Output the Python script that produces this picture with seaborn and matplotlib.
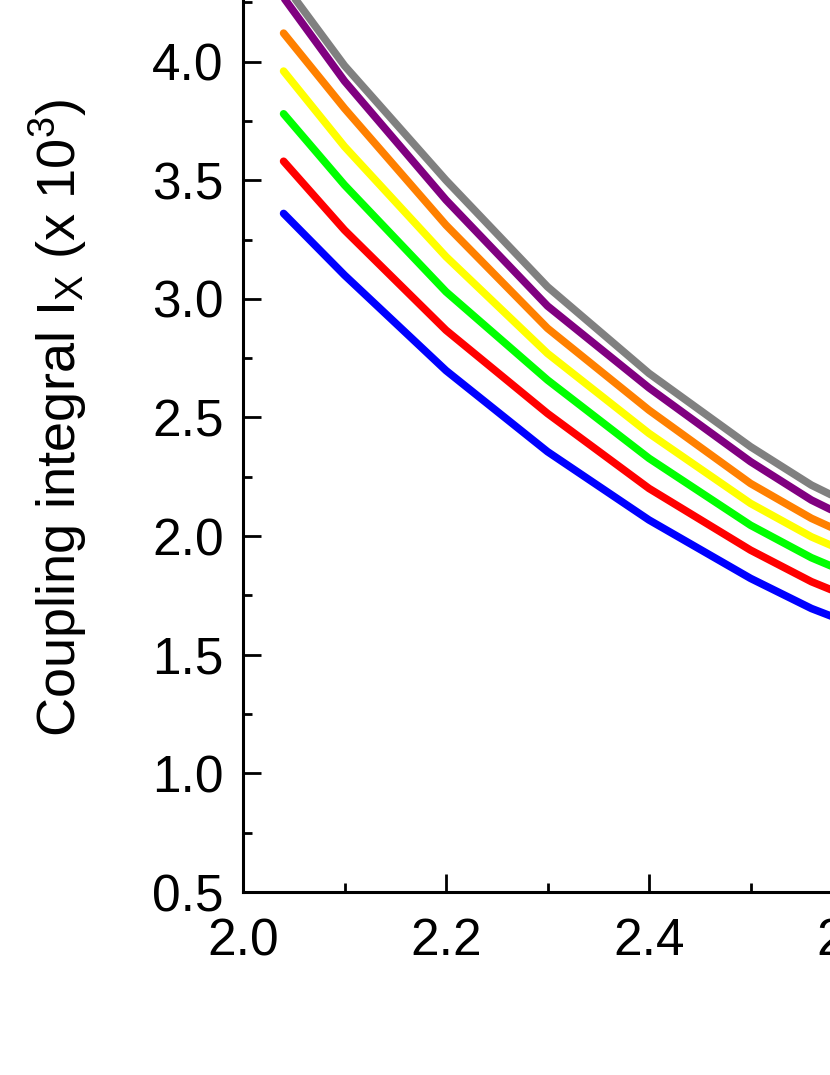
import numpy as np
import pandas as pd
import matplotlib
matplotlib.use("Agg")
import matplotlib.pyplot as plt
from matplotlib.ticker import MultipleLocator
import seaborn as sns

# values (x in the same units as the axis)
r_values = [2.04, 2.10, 2.20, 2.30, 2.40, 2.50, 2.56, 2.58]

ix_gray   = [4.33, 3.983, 3.500, 3.051, 2.686, 2.377, 2.215, 2.173]
ix_purple = [4.27, 3.918, 3.417, 2.970, 2.625, 2.314, 2.152, 2.110]
ix_orange = [4.12, 3.803, 3.311, 2.876, 2.531, 2.222, 2.075, 2.036]
ix_yellow = [3.96, 3.642, 3.178, 2.770, 2.433, 2.138, 1.997, 1.960]
ix_green  = [3.78, 3.480, 3.030, 2.658, 2.328, 2.046, 1.909, 1.873]
ix_red    = [3.58, 3.290, 2.868, 2.517, 2.201, 1.941, 1.808, 1.773]
ix_blue   = [3.36, 3.100, 2.698, 2.356, 2.068, 1.822, 1.695, 1.662]

series = {
    "blue": ix_blue,
    "red": ix_red,
    "green": ix_green,
    "yellow": ix_yellow,
    "orange": ix_orange,
    "purple": ix_purple,
    "gray": ix_gray,
}
colors = {
    "blue": "#0000FF",
    "red": "#FF0000",
    "green": "#00FF00",
    "yellow": "#FFFF00",
    "orange": "#FF8000",
    "purple": "#800080",
    "gray": "#808080",
}

rows = []
for name, vals in series.items():
    for r, v in zip(r_values, vals):
        rows.append({"r": r, "Ix": v, "curve": name})
df = pd.DataFrame(rows)

sns.set_style("ticks")
plt.rcParams["font.family"] = ["Liberation Sans", "DejaVu Sans"]
plt.rcParams["mathtext.fontset"] = "custom"
plt.rcParams["mathtext.rm"] = "Liberation Sans"
plt.rcParams["mathtext.it"] = "Liberation Sans:italic"
plt.rcParams["lines.solid_capstyle"] = "round"
plt.rcParams["lines.solid_joinstyle"] = "round"
plt.rcParams["text.color"] = "black"
plt.rcParams["axes.labelcolor"] = "black"
plt.rcParams["xtick.color"] = "black"
plt.rcParams["ytick.color"] = "black"

fig = plt.figure(figsize=(8.3, 10.75), dpi=100)
# axes runs past the right and top edges, like the cropped original
ax = fig.add_axes([243 / 830, 183 / 1075, 812 / 830, 949 / 1075])

sns.lineplot(data=df, x="r", y="Ix", hue="curve", palette=colors,
             linewidth=5.5, errorbar=None, legend=False, sort=True, ax=ax)

ax.set_xlim(2.0, 2.8)
ax.set_ylim(0.5, 4.5)
ax.xaxis.set_major_locator(MultipleLocator(0.2))
ax.xaxis.set_minor_locator(MultipleLocator(0.1))
ax.set_yticks(np.arange(0.5, 4.01, 0.5))
ax.yaxis.set_minor_locator(MultipleLocator(0.25))
ax.xaxis.set_major_formatter(plt.FormatStrFormatter("%.1f"))
ax.yaxis.set_major_formatter(plt.FormatStrFormatter("%.1f"))

for s in ["left", "bottom"]:
    ax.spines[s].set_linewidth(2.2)
    ax.spines[s].set_color("black")
for s in ["top", "right"]:
    ax.spines[s].set_visible(False)

ax.tick_params(which="major", direction="in", length=13, width=2.0,
               labelsize=37, color="black", labelcolor="black")
ax.tick_params(which="minor", direction="in", length=6.5, width=2.0,
               color="black")
ax.tick_params(axis="y", which="major", pad=14)
ax.tick_params(axis="x", which="major", pad=18)

ax.set_xlabel("")
ax.set_ylabel(r"Coupling integral I$_\mathregular{X}$ (x 10$^\mathregular{3}$)",
              fontsize=39, color="black")
ax.yaxis.set_label_coords(-0.19, 0.5)

fig.savefig("out.png", dpi=100)
